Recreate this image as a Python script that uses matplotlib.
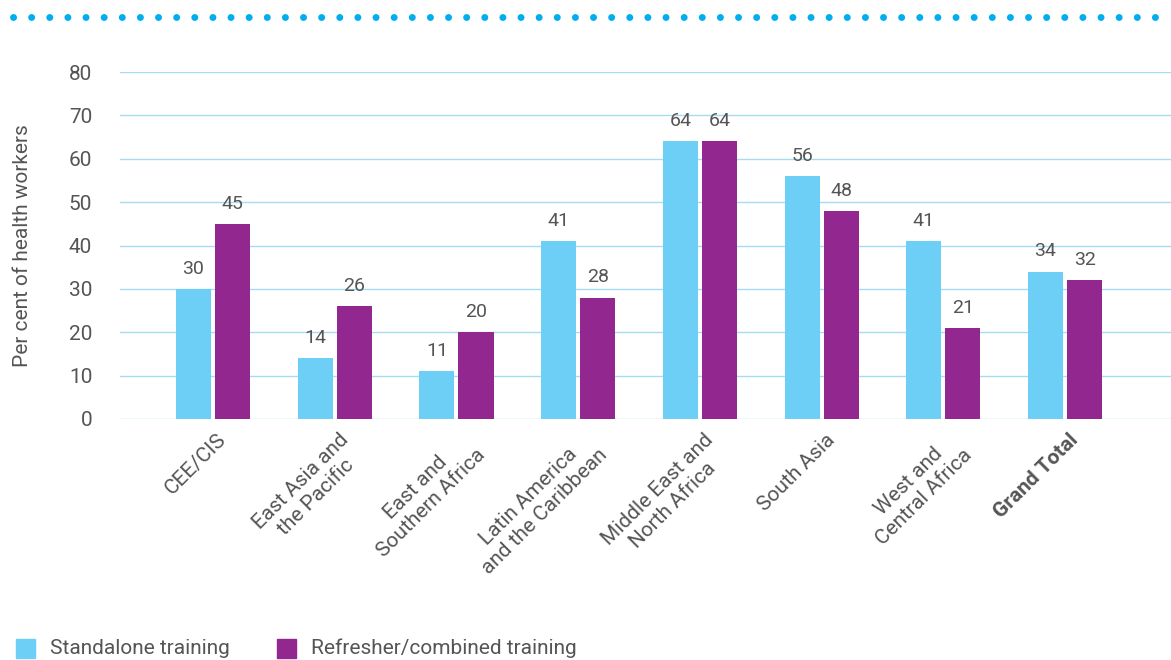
import numpy as np
import matplotlib.pyplot as plt
from matplotlib.patches import Rectangle
from matplotlib.lines import Line2D

plt.rcParams['font.family'] = ['Roboto', 'DejaVu Sans']

regions = ['CEE/CIS', 'East Asia and\nthe Pacific', 'East and\nSouthern Africa',
           'Latin America\nand the Caribbean', 'Middle East and\nNorth Africa',
           'South Asia', 'West and\nCentral Africa', 'Grand Total']
standalone = [30, 14, 11, 41, 64, 56, 41, 34]
refresher = [45, 26, 20, 28, 64, 48, 21, 32]
series_names = ['Standalone training', 'Refresher/combined training']

c_stand = '#6dcff6'
c_refr = '#92278f'
grid_c = '#a6dcf2'
txt_c = '#555555'

fig = plt.figure(figsize=(11.71, 6.6), dpi=100)
ax = fig.add_axes([120 / 1171, 1 - 419 / 660, 1051 / 1171, 347 / 660])

x = np.arange(len(regions))
w = 0.288
gap = 0.033
b1 = ax.bar(x - (w + gap) / 2, standalone, w, color=c_stand, zorder=3)
b2 = ax.bar(x + (w + gap) / 2, refresher, w, color=c_refr, zorder=3)

for bars, vals in ((b1, standalone), (b2, refresher)):
    for r, v in zip(bars, vals):
        ax.text(r.get_x() + r.get_width() / 2, v + 2.6, str(v), ha='center',
                va='bottom', fontsize=14, color=txt_c)

ax.set_ylim(0, 80)
ax.set_xlim(-0.764, len(regions) - 1 + 0.87)
ax.set_yticks(range(0, 81, 10))
ax.yaxis.grid(True, color=grid_c, linewidth=1, zorder=0)
ax.set_axisbelow(True)
for s in ax.spines.values():
    s.set_visible(False)
ax.tick_params(axis='y', length=0, labelsize=15, labelcolor=txt_c, pad=20)
ax.tick_params(axis='x', length=0, labelsize=15, labelcolor=txt_c, pad=8)
ax.set_xticks(x + 0.03)
ax.set_xticklabels(regions, rotation=45, ha='right', rotation_mode='anchor',
                   multialignment='center')
ax.get_xticklabels()[-1].set_fontweight('bold')
ax.set_ylabel('Per cent of health workers', fontsize=15, color=txt_c)
ax.yaxis.set_label_coords(-88 / 1051, 0.5)

# dotted rule across the top
fig.add_artist(Line2D([13 / 1171, 1162 / 1171], [1 - 17 / 660] * 2,
                      transform=fig.transFigure, color='#00aeef',
                      linestyle=(0, (0.01, 2.6)), linewidth=5,
                      solid_capstyle='round', dash_capstyle='round'))

# legend along the bottom
for px, name, col in ((16, series_names[0], c_stand), (277, series_names[1], c_refr)):
    fig.add_artist(Rectangle((px / 1171, 1 - 658 / 660), 19 / 1171, 19 / 660,
                             transform=fig.transFigure, color=col))
    fig.text((px + 34) / 1171, 1 - 648 / 660, name, fontsize=15,
             color=txt_c, va='center')

fig.savefig('out.png', dpi=100)
